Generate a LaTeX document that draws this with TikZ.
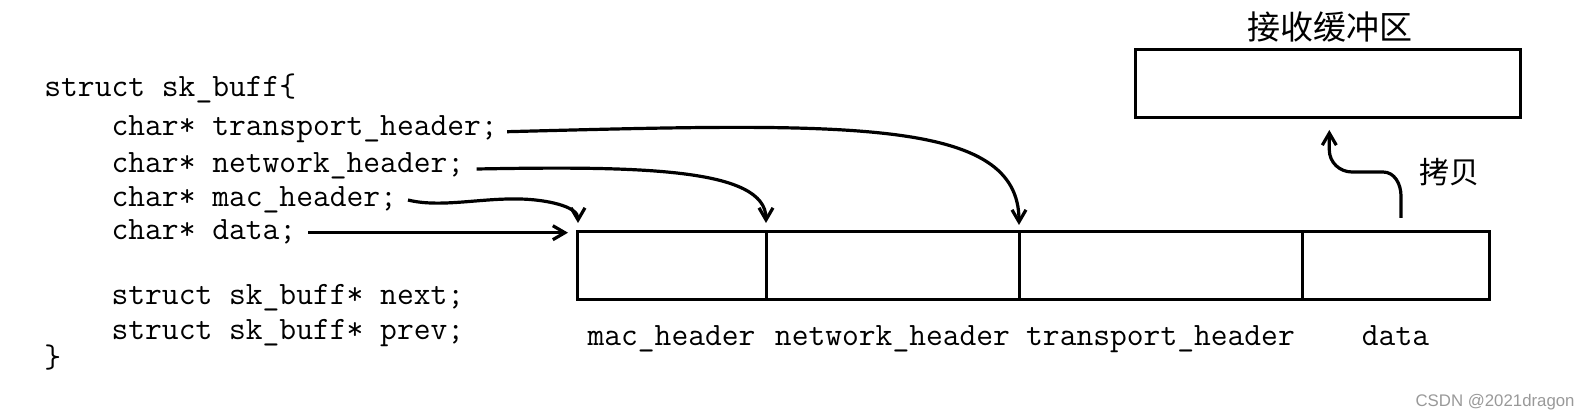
\documentclass[tikz,border=0pt]{standalone}
\usepackage{fontspec}
\newfontfamily\cjkfont{Noto Sans CJK SC}
\newfontfamily\wmfont{Liberation Sans}
\usetikzlibrary{positioning,arrows.meta}
\tikzset{
  code/.style={font=\ttfamily\fontsize{16.3}{19}\selectfont, inner sep=0pt, anchor=base west},
  cell/.style={draw, line width=1.5pt, inner sep=0pt, outer sep=0pt, minimum height=33.8pt},
  lbl/.style={font=\ttfamily\fontsize{16.3}{19}\selectfont, inner sep=0pt, text height=12pt, text depth=4pt},
  cjk/.style={font=\cjkfont\fontsize{#1}{19}\selectfont, inner sep=0pt},
  ptr/.style={line width=1.6pt, -{Straight Barb[length=6pt,width=7pt]}},
}
\begin{document}
\begin{tikzpicture}[x=0.5pt,y=0.5pt]
            \useasboundingbox (0,0) rectangle (1590,418);

            % struct sk_buff
            \node[code] (lstruct) at (44,321.3) {struct sk\_buff\{};
            \node[code] (ltrans) at (111.2,282) {char* transport\_header;};
            \node[code] (lnet) at (111.2,245) {char* network\_header;};
            \node[code] (lmac) at (111.2,211) {char* mac\_header;};
            \node[code] (ldata) at (111.2,178) {char* data;};
            \node[code] (lnext) at (111.2,113) {struct sk\_buff* next;};
            \node[code] (lprev) at (111.2,79) {struct sk\_buff* prev;};
            \node[code] (lend) at (44,51) {\}};

            % packet buffer
            \node[cell, minimum width=94.5pt] (mac) at (671.5,152.5) {};
            \node[cell, minimum width=126.5pt, right=0pt of mac] (net) {};
            \node[cell, minimum width=141.5pt, right=0pt of net] (trans) {};
            \node[cell, minimum width=93.5pt, right=0pt of trans] (dat) {};

            \node[lbl, below=10.85pt of mac] (tmac) {mac\_header};
            \node[lbl, below=10.85pt of net] (tnet) {network\_header};
            \node[lbl, below=10.85pt of trans] (ttrans) {transport\_header};
            \node[lbl, below=10.85pt of dat] (tdat) {data};

            % receive buffer
            \node[cell, minimum width=192.85pt, minimum height=34pt] (recv) at (1327.9,334.7) {};
            \node[cjk=16.5] (title) at (1330,391) {接收缓冲区};
            \node[cjk=15] (copy) at (1449,245.5) {拷贝};

            % pointers
            \coordinate (ttip) at ([yshift=3.35pt]trans.north west);
            \draw[ptr] ([xshift=4.5pt,yshift=2.15pt]ltrans.base east) .. controls +(343,9) and +(0,107) .. (ttip);

            \coordinate (ntip) at ([yshift=4.35pt]net.north west);
            \draw[ptr] ([xshift=6pt,yshift=2pt]lnet.base east) .. controls +(163,3) and +(0,55) .. (ntip);

            \coordinate (mtip) at ([xshift=0.5pt,yshift=4.35pt]mac.north west);
            \draw[ptr] ([xshift=5.3pt,yshift=3.5pt]lmac.base east) .. controls +(32,-8) and +(-40,1) .. (520,219)
                .. controls +(25,-0.5) and +(0,17) .. (mtip);

            \draw[ptr] ([xshift=5.8pt,yshift=3.65pt]ldata.base east) -- ([xshift=-4.5pt,yshift=-0.5pt]mac.north west);

            % copy
            \coordinate (cstart) at ([xshift=2.75pt,yshift=6.85pt]dat.north);
            \coordinate (ctip) at ([xshift=0.7pt,yshift=-6.35pt]recv.south);
            \draw[ptr] (cstart) -- ++(0,22) to[out=90,in=0] ++(-18,24) -- ++(-31,0)
                to[out=180,in=-90] ++(-22.7,22) -- (ctip);

            \node[font=\wmfont\fontsize{8.4}{10}\selectfont, text=black!40, anchor=base east, inner sep=0pt] (wm) at (1575,12) {CSDN @2021dragon};
        \end{tikzpicture}
\end{document}
